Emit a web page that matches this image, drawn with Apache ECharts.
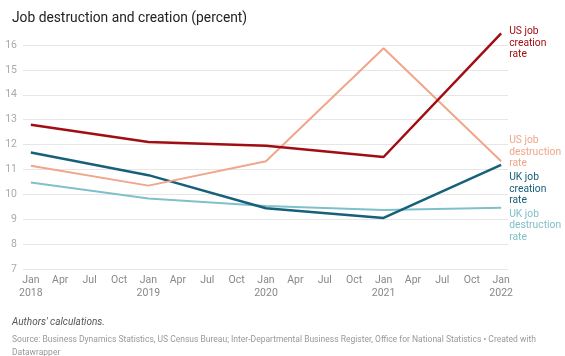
<!DOCTYPE html>
<html><head><meta charset="utf-8">
<script src="https://cdn.jsdelivr.net/npm/echarts@6/dist/echarts.min.js"></script>
<style>html,body{margin:0;padding:0;background:#fff}#c{width:565px;height:356px}</style>
</head><body><div id="c"></div>
<script>
// Months since Jan 2018 for each observation (Jan of each year)
const months = [0, 12, 24, 36, 48];
const usCreation = [12.8, 12.1, 11.95, 11.5, 16.47];
const usDestruction = [11.15, 10.35, 11.33, 15.87, 11.33];
const ukCreation = [11.68, 10.77, 9.44, 9.05, 11.18];
const ukDestruction = [10.48, 9.83, 9.53, 9.37, 9.46];
const yTicks = [7, 8, 9, 10, 11, 12, 13, 14, 15, 16];
const xTickMonths = [0,3,6,9,12,15,18,21,24,27,30,33,36,39,42,45,48];
const monthNames = ['Jan','Apr','Jul','Oct'];

const pairs = arr => months.map((m, i) => [m, arr[i]]);

const chart = echarts.init(document.getElementById('c'), null, {renderer: 'canvas'});
const font = 'Roboto, "Noto Sans", sans-serif';

function mk(name, data, color, width, label, offY) {
  return {
    name, type: 'line', data: pairs(data), symbol: 'none', clip: false,
    lineStyle: {color, width}, itemStyle: {color},
    endLabel: {show: true, formatter: label, color, fontFamily: font, fontSize: 10.3,
      lineHeight: 11.5, align: 'left', distance: 8, offset: [0, offY]},
    z: 3
  };
}

chart.setOption({
  animation: false,
  textStyle: {fontFamily: font},
  title: [
    {text: 'Job destruction and creation (percent)', left: 7, top: 7,
      textStyle: {fontSize: 13.8, fontWeight: 'normal', color: '#222', fontFamily: font}},
    {text: "Authors' calculations.", left: 7, top: 312,
      textStyle: {fontSize: 10, fontStyle: 'italic', fontWeight: 'normal', color: '#555', fontFamily: font}},
    {text: 'Source: Business Dynamics Statistics, US Census Bureau; Inter-Departmental Business Register, Office for National Statistics • Created with\nDatawrapper',
      left: 7, top: 328,
      textStyle: {fontSize: 8.5, fontWeight: 'normal', color: '#999', lineHeight: 13, fontFamily: font}}
  ],
  grid: {left: 23, right: 57, top: 45, bottom: 87},
  xAxis: {
    type: 'value', min: -0.8, max: 48.7,
    axisLine: {show: false}, axisTick: {show: false}, splitLine: {show: false},
    axisLabel: {
      customValues: xTickMonths, color: '#888', fontSize: 10.5, lineHeight: 13, margin: 5,
      fontFamily: font,
      formatter: v => {
        const m = Math.round(v);
        const name = monthNames[(m % 12) / 3];
        return m % 12 === 0 ? name + '\n' + (2018 + m / 12) : name;
      }
    }
  },
  yAxis: {
    type: 'value', min: 7, max: 16, interval: 1,
    axisLine: {show: false}, axisTick: {show: false},
    splitLine: {lineStyle: {color: '#e6e6e6', width: 1}},
    axisLabel: {customValues: yTicks, color: '#aaa', fontSize: 10.5, margin: 6, fontFamily: font}
  },
  series: [
    mk('UK job destruction rate', ukDestruction, '#80c0c8', 2, 'UK job\ndestruction\nrate', 18),
    mk('UK job creation rate', ukCreation, '#17607a', 2.5, 'UK job\ncreation\nrate', 24),
    mk('US job destruction rate', usDestruction, '#f0a68a', 2, 'US job\ndestruction\nrate', -9),
    mk('US job creation rate', usCreation, '#a10d13', 2.5, 'US job\ncreation\nrate', 10)
  ]
});
</script></body></html>
